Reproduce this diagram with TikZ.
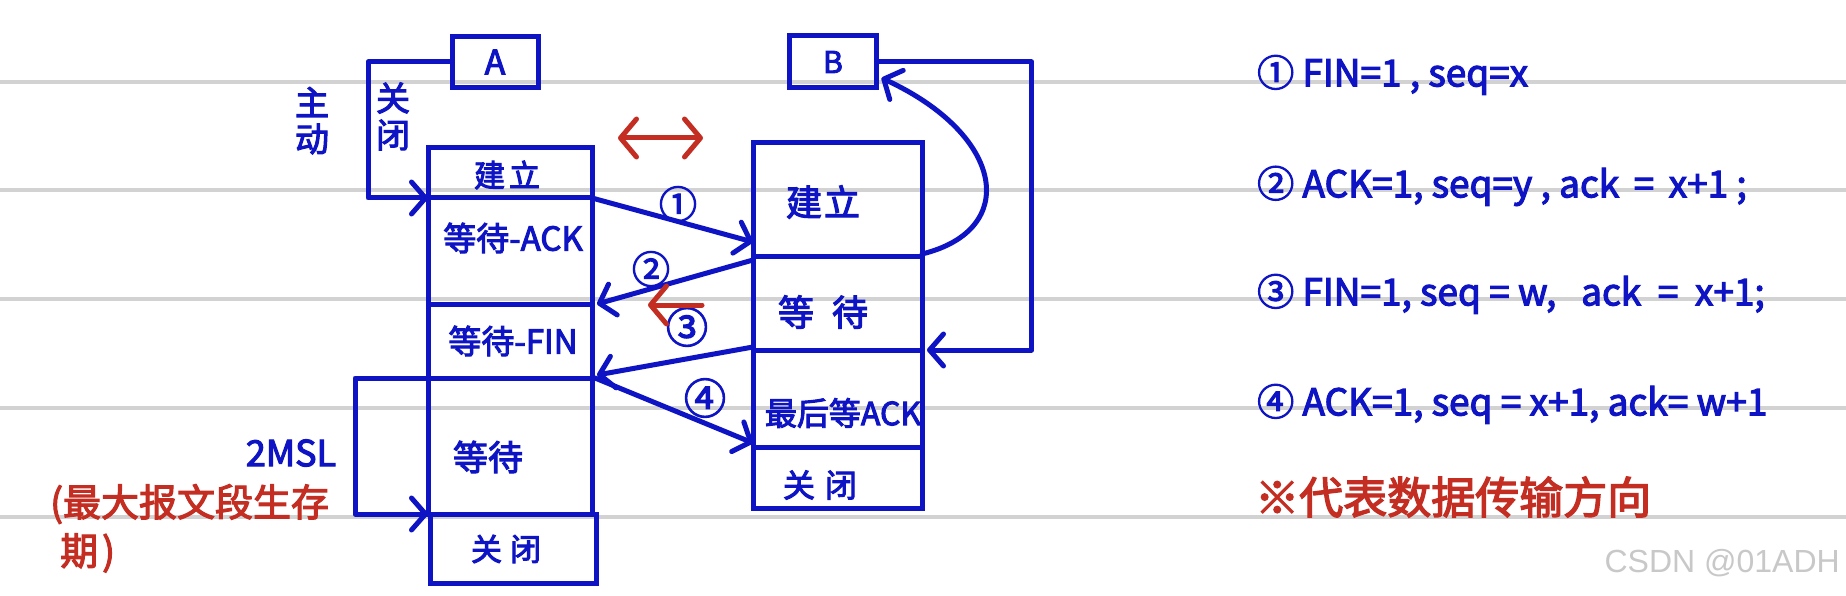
\documentclass[tikz,border=0pt]{standalone}
\usepackage{fontspec}
\newfontfamily\hw{Noto Sans CJK SC}[AutoFakeBold=3]
\newfontfamily\wm{Liberation Sans}
\usetikzlibrary{arrows.meta}
\definecolor{inkblue}{RGB}{14,20,196}
\definecolor{inkred}{RGB}{196,46,34}
\definecolor{ruleg}{RGB}{210,210,210}
\definecolor{wmgray}{RGB}{200,200,200}
\begin{document}
\begin{tikzpicture}[x=1pt,y=-1pt,
  cell/.style={draw=inkblue,line width=5pt,rectangle,inner sep=0pt,outer sep=0pt},
  wire/.style={draw=inkblue,line width=5pt,line cap=round,line join=round},
  redwire/.style={draw=inkred,line width=5pt,line cap=round,line join=round},
  tip/.style={-{Straight Barb[length=14pt,width=32pt,line cap=round,line join=round]}},
  rtip/.style={-{Straight Barb[length=16pt,width=38pt,line cap=round,line join=round]}},
  rtips/.style={{Straight Barb[length=16pt,width=38pt,line cap=round,line join=round]}-{Straight Barb[length=16pt,width=38pt,line cap=round,line join=round]}},
  lbl/.style={text=inkblue,inner sep=0pt,font=\hw\bfseries\fontsize{#1}{#1}\selectfont},
  rlbl/.style={text=inkred,inner sep=0pt,font=\hw\bfseries\fontsize{#1}{#1}\selectfont},
  rulel/.style={draw=ruleg,line width=4pt}
]
\useasboundingbox (0,0) rectangle (1846,596);
\fill[white] (0,0) rectangle (1846,596);
% ruled paper lines
\foreach \yy in {82,190,299,408,517} \draw[rulel] (0,\yy) -- (1846,\yy);

% A and B
\node[cell,lbl=34,minimum width=86pt,minimum height=51pt] (A) at (495,62) {A};
\node[cell,lbl=30,minimum width=87pt,minimum height=52pt] (B) at (833,62) {B};

% left column
\node[cell,minimum width=164pt,minimum height=50pt]  (L1) at (510,173) {};
\node[cell,minimum width=164pt,minimum height=106pt] (L2) at (510,251) {};
\node[cell,minimum width=164pt,minimum height=74pt]  (L3) at (510,341) {};
\node[cell,minimum width=164pt,minimum height=136pt] (L4) at (510,446) {};
\node[cell,minimum width=166pt,minimum height=69pt]  (L5) at (513,548.5) {};
\node[lbl=31] (L1t) at (507,175) {建\hspace{4pt}立};
\node[lbl=33] (L2t) at (513,238) {等待-ACK};
\node[lbl=33] (L3t) at (513,341) {等待-FIN};
\node[lbl=35] (L4t) at (488,457) {等待};
\node[lbl=31] (L5t) at (506,549) {关\hspace{8pt}闭};

% right column
\node[cell,minimum width=169pt,minimum height=113pt] (R1) at (837.5,199.5) {};
\node[cell,minimum width=169pt,minimum height=94pt]  (R2) at (837.5,303) {};
\node[cell,minimum width=169pt,minimum height=97pt]  (R3) at (837.5,398.5) {};
\node[cell,minimum width=169pt,minimum height=61pt]  (R4) at (837.5,477.5) {};
\node[lbl=36] (R1t) at (823,202) {建\hspace{2pt}立};
\node[lbl=36] (R2t) at (823,312) {等\hspace{18pt}待};
\node[lbl=32] (R3t) at (843,413) {最后等ACK};
\node[lbl=32] (R4t) at (820,485) {关\hspace{10pt}闭};

% messages
\draw[wire,tip] (L1.south east) -- ([yshift=14pt]R1.south west);
\draw[wire,tip] ([yshift=-4pt]R2.north west) -- ([xshift=5pt]L2.south east);
\draw[wire,tip] ([yshift=3pt]R3.north west) -- ([xshift=5pt,yshift=3pt]L3.south east);
\draw[wire,tip] ([xshift=3pt]L3.south east) -- ([yshift=4pt]R4.north west);
\node[lbl=38] (n1) at (678,204) {①};
\node[lbl=38] (n2) at (651,269) {②};
\node[lbl=42] (n3) at (687,327) {③};
\node[lbl=42] (n4) at (705,398) {④};

% loops
\draw[wire,tip] (A.west) -- ++(-84,0) |- (L1.south west);
\draw[wire,tip] (B.east) -- ++(155,0) |- ([xshift=5pt]R2.south east);
\draw[wire,tip] ([yshift=2pt]R1.south east) .. controls (1020,230) and (1005,135) .. ([xshift=5pt,yshift=10pt]B.south east);
\draw[wire,tip] (L4.north west) -- ++(-73,0) |- (L4.south west);

\node[lbl=34] (zhu) at (312,102) {主};
\node[lbl=34] (dong) at (312,139) {动};
\node[lbl=34] (guan) at (393,98) {关};
\node[lbl=34] (bi) at (393,135) {闭};
\node[lbl=36] (msl) at (291,453) {2MSL};
\node[rlbl=38,anchor=west] (mx1) at (50,504) {(最大报文段生存};
\node[rlbl=38,anchor=west] (mx2) at (60,553) {期\hspace{4pt})};

% red direction arrows
\coordinate (ra1) at (618,138);
\coordinate (ra2) at (703,138);
\draw[redwire,rtips] (ra1) -- (ra2);
\coordinate (rb1) at (702,305);
\coordinate (rb2) at (648,305);
\draw[redwire,rtip] (rb1) -- (rb2);

% legend
\node[lbl=37,anchor=west] (e1) at (1257,75) {① FIN=1 , seq=x};
\node[lbl=37,anchor=west] (e2) at (1257,186) {② ACK=1, seq=y , ack\ \,=\ \,x+1 ;};
\node[lbl=37,anchor=west] (e3) at (1257,294) {③ FIN=1, seq = w,\ \ \ ack\ \ =\ \ x+1;};
\node[lbl=37,anchor=west] (e4) at (1257,404) {④ ACK=1, seq = x+1,\ ack= w+1};
\node[rlbl=44,anchor=west] (e5) at (1255,497) {※代表数据传输方向};

\node[text=wmgray,font=\wm\fontsize{32}{32}\selectfont,anchor=east,inner sep=0pt] (wmk) at (1840,563) {CSDN @01ADH};
\end{tikzpicture}
\end{document}
